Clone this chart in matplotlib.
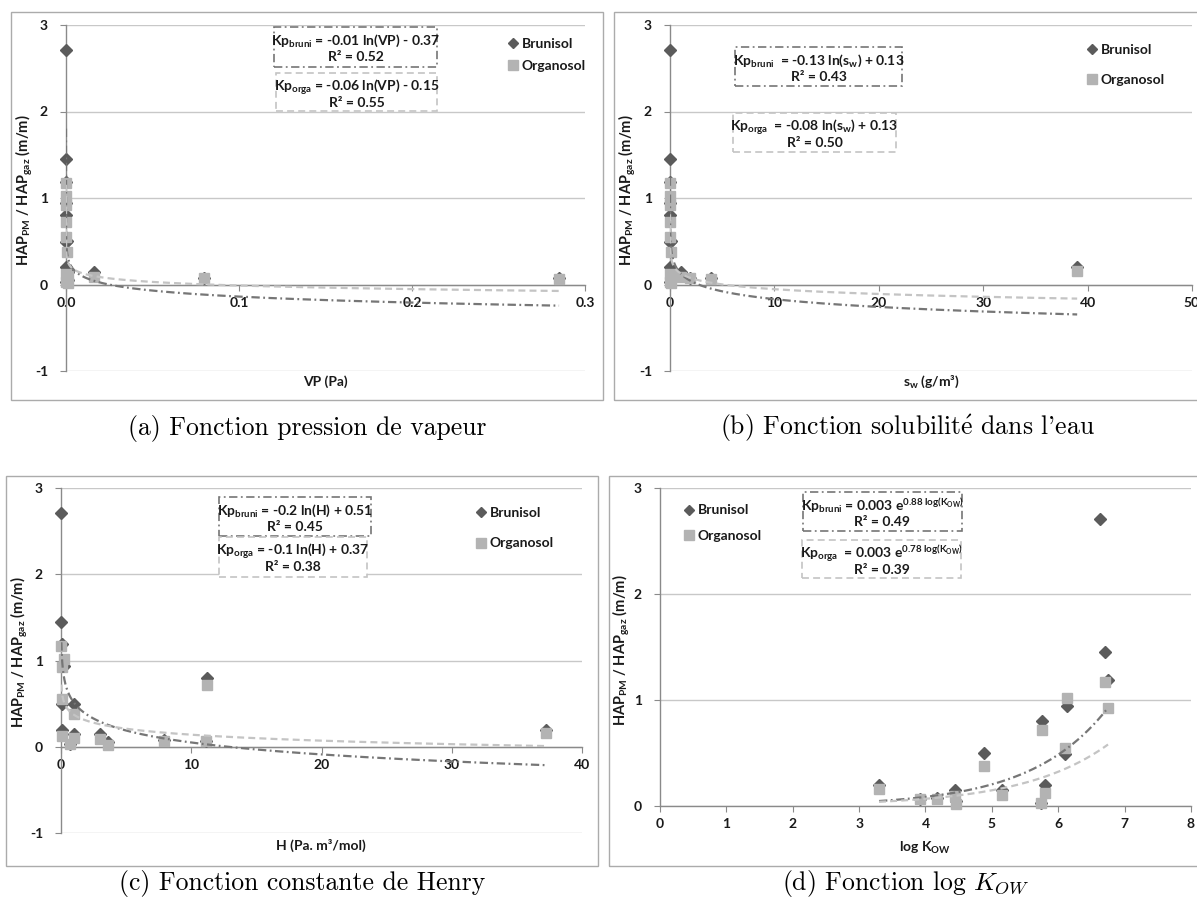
import numpy as np
import matplotlib
matplotlib.use("Agg")
import matplotlib.pyplot as plt
from matplotlib.patches import Rectangle
from matplotlib.lines import Line2D

# ---------------- data (one value per HAP, same order in every list) ----------------
kp_brunisol = [0.20, 0.07, 0.08, 0.15, 0.05, 0.50, 0.15, 0.80, 0.03, 0.20, 0.94, 0.49, 2.71, 1.45, 1.19]
kp_organosol = [0.16, 0.065, 0.07, 0.09, 0.02, 0.38, 0.10, 0.72, 0.03, 0.12, 1.02, 0.55, np.nan, 1.17, 0.92]
vp_pa = [np.nan, 0.285, 0.080, 0.016, 1.0e-3, 6.0e-4, 1.2e-3, 2.8e-5, 8.0e-7, 6.7e-5, 7.0e-7, 5.2e-8,
         1.4e-8, 1.3e-8, 3.7e-10]
sw_gm3 = [39.0, 3.9, 1.9, 1.1, 0.07, 0.13, 0.26, 0.011, 0.002, 0.0015, 0.0038, 0.0008, 0.00026, 0.0002, 0.0005]
henry = [37.2, 11.1, 7.9, 3.0, 3.6, 1.0, 1.0, 11.2, 0.7, 0.05, 0.2, 0.05, 0.03, 0.03, 0.05]
log_kow = [3.30, 3.92, 4.18, 4.45, 4.46, 4.88, 5.16, 5.76, 5.74, 5.80, 6.13, 6.10, 6.63, 6.70, 6.75]

# trend-line coefficients (bruni, orga)
trend_vp = [(-0.10, -0.37), (-0.06, -0.15)]        # a ln(x) + b
trend_sw = [(-0.13, 0.13), (-0.08, 0.13)]
trend_h = [(-0.20, 0.51), (-0.10, 0.37)]
trend_kow = [(0.0027, 0.865), (0.003, 0.78)]       # a exp(k x)

eq_vp = ["Kp$_{bruni}$ = -0.01 ln(VP) - 0.37", "R² = 0.52", "Kp$_{orga}$ = -0.06 ln(VP) - 0.15", "R² = 0.55"]
eq_sw = ["Kp$_{bruni}$  = -0.13 ln(s$_{w}$) + 0.13", "R² = 0.43", "Kp$_{orga}$  = -0.08 ln(s$_{w}$) + 0.13", "R² = 0.50"]
eq_h = ["Kp$_{bruni}$ = -0.2 ln(H) + 0.51", "R² = 0.45", "Kp$_{orga}$ = -0.1 ln(H) + 0.37", "R² = 0.38"]
eq_kow = ["Kp$_{bruni}$ = 0.003 e$^{0.88\\ log(K_{OW})}$", "R² = 0.49",
          "Kp$_{orga}$  = 0.003 e$^{0.78\\ log(K_{OW})}$", "R² = 0.39"]

captions = ["(a) Fonction pression de vapeur", "(b) Fonction solubilit$\\acute{e}$ dans l'eau",
            "(c) Fonction constante de Henry", "(d) Fonction $\\log\\,\\mathit{K}_{\\mathit{OW}}$"]
xlabels = ["VP (Pa)", "s$_{w}$ (g/m³)", "H (Pa. m³/mol)", "log K$_{OW}$"]
ylabel = "HAP$_{PM}$ / HAP$_{gaz}$ (m/m)"
series_names = ["Brunisol", "Organosol"]

# ---------------- style ----------------
plt.rcParams.update({
    "font.family": ["Lato", "DejaVu Sans"],
    "font.weight": "bold",
    "font.size": 10,
    "axes.unicode_minus": False,
    "mathtext.fontset": "custom",
    "mathtext.rm": "Lato:bold",
    "mathtext.it": "Lato:bold:italic",
    "mathtext.bf": "Lato:bold",
    "mathtext.default": "rm",
    "lines.scale_dashes": False,
})

W, H = 1197, 907
fig = plt.figure(figsize=(W / 100, H / 100), dpi=100)


def fxy(x, y):
    return x / W, 1 - y / H


def rect(l, t, r, b):
    return [l / W, 1 - b / H, (r - l) / W, (b - t) / H]


C_BRUNI = "#5b5b5b"
C_ORGA = "#b3b3b3"
C_LBRUNI = "#767676"
C_LORGA = "#c4c4c4"
LS_BRUNI = (0, (6, 2.5, 1.3, 2.5))
LS_ORGA = (0, (5, 3))

panels = [
    dict(x=vp_pa, kind="log", coef=trend_vp, eq=eq_vp, ax=(66, 25, 585, 371), xlim=(0, 0.3), xt=[0, 0.1, 0.2, 0.3],
         fmt="{:.1f}", ylim=(-1, 3), frame=(11, 12, 603, 400), ylab=(24, 190), xlab=(325, 382),
         box1=(274, 27, 437, 67), box2=(276, 73, 437, 111), leg=(509, 55, 0.7), cap=(307, 435)),
    dict(x=sw_gm3, kind="log", coef=trend_sw, eq=eq_sw, ax=(670, 25, 1192, 371), xlim=(0, 50), xt=[0, 10, 20, 30, 40, 50],
         fmt="{:.0f}", ylim=(-1, 3), frame=(614, 12, 1205, 400), ylab=(627, 190), xlab=(931, 382),
         box1=(735, 47, 902, 86), box2=(733, 113, 896, 152), leg=(1088, 65, 1.3), cap=(907, 435)),
    dict(x=henry, kind="log", coef=trend_h, eq=eq_h, ax=(61, 488, 582, 833), xlim=(0, 40), xt=[0, 10, 20, 30, 40],
         fmt="{:.0f}", ylim=(-1, 3), frame=(6, 476, 598, 866), ylab=(19, 652), xlab=(321, 845),
         box1=(219, 497, 371, 536), box2=(219, 537, 367, 577), leg=(477, 528, 1.35), cap=(302, 890)),
    dict(x=log_kow, kind="exp", coef=trend_kow, eq=eq_kow, ax=(660, 488, 1191, 806), xlim=(0, 8), xt=list(range(9)),
         fmt="{:.0f}", ylim=(0, 3), frame=(609, 476, 1205, 866), ylab=(621, 650), xlab=(925, 848),
         box1=(803, 492, 962, 531), box2=(802, 540, 961, 578), leg=(685, 523, 0.95), cap=(906, 890)),
]

yb = np.array(kp_brunisol, dtype=float)
yo = np.array(kp_organosol, dtype=float)

for i, p in enumerate(panels):
    # outer frame
    fl, ft, fr, fb = p["frame"]
    fig.patches.append(Rectangle(fxy(fl, fb), (fr - fl) / W, (fb - ft) / H, transform=fig.transFigure,
                                 fill=False, edgecolor="#ababab", lw=1.0, zorder=1))
    ax = fig.add_axes(rect(*p["ax"]))
    x = np.array(p["x"], dtype=float)
    ax.plot(x, yb, ls="none", marker="D", ms=6.5, color=C_BRUNI, mec=C_BRUNI, zorder=3, clip_on=False)
    ax.plot(x, yo, ls="none", marker="s", ms=7.5, color=C_ORGA, mec=C_ORGA, zorder=4, clip_on=False)
    for (a, b), yv, col, ls in [(p["coef"][0], yb, C_LBRUNI, LS_BRUNI), (p["coef"][1], yo, C_LORGA, LS_ORGA)]:
        m = ~np.isnan(x) & ~np.isnan(yv)
        lo, hi = x[m].min(), x[m].max()
        if p["kind"] == "log":
            xx = np.geomspace(lo, hi, 2000)
            yy = a * np.log(xx) + b
        else:
            xx = np.linspace(lo, hi, 400)
            yy = a * np.exp(b * xx)
        ax.plot(xx, yy, color=col, ls=ls, lw=1.6, zorder=5)
    ax.set_xlim(*p["xlim"])
    ax.set_ylim(*p["ylim"])
    ax.set_xticks(p["xt"])
    ax.set_xticklabels([p["fmt"].format(v) for v in p["xt"]])
    ax.set_yticks(range(int(p["ylim"][0]), 4))
    ax.spines["top"].set_visible(False)
    ax.spines["right"].set_visible(False)
    ax.spines["bottom"].set_position(("data", 0))
    for s in ("left", "bottom"):
        ax.spines[s].set_color("#8a8a8a")
        ax.spines[s].set_linewidth(1.0)
    ax.yaxis.grid(True, color="#c8c8c8", lw=1.0)
    ax.set_axisbelow(True)
    ax.tick_params(axis="both", direction="out", length=4, color="#8a8a8a", labelsize=10, labelcolor="#1a1a1a")
    ax.tick_params(axis="y", pad=9)
    ax.tick_params(axis="x", pad=5)
    ax.patch.set_alpha(0)
    # axis titles
    fig.text(*fxy(*p["ylab"]), ylabel, rotation=90, ha="center", va="center", fontsize=10.5, color="#1a1a1a")
    fig.text(*fxy(*p["xlab"]), xlabels[i], ha="center", va="center", fontsize=10, color="#1a1a1a")
    # equation boxes
    for (bl, bt, br, bb), col, ls, lines in [(p["box1"], C_LBRUNI, LS_BRUNI, p["eq"][:2]),
                                              (p["box2"], C_LORGA, LS_ORGA, p["eq"][2:])]:
        fig.patches.append(Rectangle(fxy(bl, bb), (br - bl) / W, (bb - bt) / H, transform=fig.transFigure,
                                     facecolor="white", edgecolor=col, ls=ls, lw=1.2, zorder=1))
        cx = (bl + br) / 2
        fig.text(*fxy(cx, bt + 14), lines[0], ha="center", va="center", fontsize=10, color="#1a1a1a")
        fig.text(*fxy(cx, bt + 30), lines[1], ha="center", va="center", fontsize=10, color="#1a1a1a")
    # legend
    lx, ly, sp = p["leg"]
    handles = [Line2D([], [], ls="none", marker="D", ms=5.5, color=C_BRUNI),
               Line2D([], [], ls="none", marker="s", ms=7, color=C_ORGA)]
    ax.legend(handles, series_names, loc="center left", bbox_to_anchor=fxy(lx, ly), bbox_transform=fig.transFigure,
              frameon=False, borderpad=0, handlelength=0.6, handletextpad=0.3, labelspacing=sp, fontsize=10,
              labelcolor="#1a1a1a", borderaxespad=0)

# captions (centred under each sub-figure)
for p, cap in zip(panels, captions):
    fig.text(*fxy(*p["cap"]), cap, ha="center", va="baseline", fontsize=18.5, fontweight="normal",
             family=["cmr10", "DejaVu Serif"], math_fontfamily="cm", color="black")

fig.savefig("out.png", dpi=100, facecolor="white")
